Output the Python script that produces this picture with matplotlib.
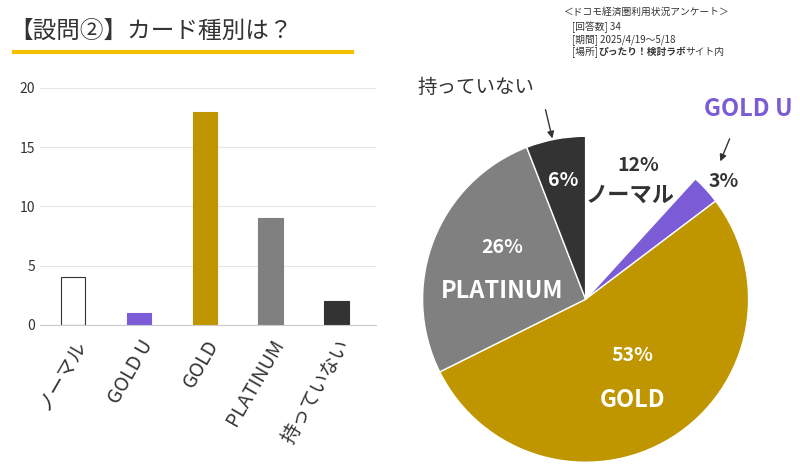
import matplotlib
matplotlib.use("Agg")
import matplotlib.pyplot as plt
import numpy as np

plt.rcParams["font.family"] = "Noto Sans CJK JP"

categories = ["ノーマル", "GOLD U", "GOLD", "PLATINUM", "持っていない"]
counts = [4, 1, 18, 9, 2]
colors = ["#ffffff", "#7b5cd6", "#bf9500", "#808080", "#333333"]
yticks = [0, 5, 10, 15, 20]

fig = plt.figure(figsize=(8, 4.75), dpi=100)

fig.text(0.012, 0.935, "【設問②】カード種別は？", fontsize=17, color="#333333", va="center")
fig.add_artist(plt.Line2D([0.018, 0.44], [0.89, 0.89], color="#f2c200", lw=3))
fig.text(0.705, 0.985, "＜ドコモ経済圏利用状況アンケート＞", fontsize=7, color="#333333", va="top")
fig.text(0.715, 0.955, "[回答数] 34", fontsize=7, color="#333333", va="top")
fig.text(0.715, 0.928, "[期間] 2025/4/19〜5/18", fontsize=7, color="#333333", va="top")
fig.text(0.715, 0.901, "[場所]", fontsize=7, color="#333333", va="top")
fig.text(0.748, 0.901, "ぴったり！検討ラボ", fontsize=7, color="#333333", va="top", fontweight="bold")
fig.text(0.857, 0.901, "サイト内", fontsize=7, color="#333333", va="top")

ax = fig.add_axes([0.05, 0.316, 0.42, 0.499])
x = np.arange(len(categories))
ax.bar(x, counts, width=0.37, color=colors, edgecolor=["#333333", colors[1], colors[2], colors[3], colors[4]], linewidth=0.8)
ax.set_ylim(0, 20)
ax.set_xlim(-0.5, 4.6)
ax.set_yticks(yticks)
ax.yaxis.grid(True, color="#e6e6e6", lw=0.8)
ax.set_axisbelow(True)
for s in ["top", "right", "left"]:
    ax.spines[s].set_visible(False)
ax.spines["bottom"].set_color("#cccccc")
ax.tick_params(axis="y", length=0, labelsize=10, colors="#333333")
ax.tick_params(axis="x", length=0, labelsize=14, colors="#333333", pad=8)
ax.set_xticks(x)
ax.set_xticklabels(categories, rotation=60, ha="right", rotation_mode="anchor")

pax = fig.add_axes([0.522, 0.02, 0.42, 0.70])
wedges, _ = pax.pie(counts, colors=colors, startangle=90, counterclock=False,
                    wedgeprops=dict(edgecolor="white", linewidth=1))
pax.set_aspect("equal")
total = sum(counts)
pct = [round(c / total * 100) for c in counts]
fr = [0.62, 0.92, 0.55, 0.55, 0.75]
for i, w in enumerate(wedges):
    ang = np.deg2rad((w.theta1 + w.theta2) / 2)
    cx, cy = np.cos(ang), np.sin(ang)
    tc = "#333333" if i in (0, 1) else "white"
    if i == 0:
        pax.text(0.32, 0.82, f"{pct[i]}%", ha="center", va="center", fontsize=14, fontweight="bold", color=tc)
        pax.text(0.27, 0.64, categories[i], ha="center", va="center", fontsize=16, fontweight="bold", color=tc)
    elif i == 1:
        pax.text(0.85, 0.72, f"{pct[i]}%", ha="center", va="center", fontsize=14, fontweight="bold", color=tc)
        pax.annotate("", xy=(0.82, 0.83), xytext=(0.89, 1.0), arrowprops=dict(arrowstyle="-|>", color="#333333", lw=1))
        pax.text(1.0, 1.17, categories[i], ha="center", va="center", fontsize=17, fontweight="bold", color="#7b5cd6")
    elif i == 4:
        pax.text(0.74*cx, 0.74*cy, f"{pct[i]}%", ha="center", va="center", fontsize=14, fontweight="bold", color=tc)
        pax.annotate("", xy=(-0.2, 0.97), xytext=(-0.25, 1.18), arrowprops=dict(arrowstyle="-|>", color="#333333", lw=1))
        pax.text(-0.67, 1.3, categories[i], ha="center", va="center", fontsize=14, color="#333333")
    else:
        pax.text(fr[i]*cx, fr[i]*cy + 0.12, f"{pct[i]}%", ha="center", va="center", fontsize=14, fontweight="bold", color=tc)
        pax.text(fr[i]*cx, fr[i]*cy - 0.15, categories[i], ha="center", va="center", fontsize=17, fontweight="bold", color=tc)
pax.set_xlim(-1.02, 1.02); pax.set_ylim(-1.02, 1.02)

fig.savefig("out.png", dpi=100)
